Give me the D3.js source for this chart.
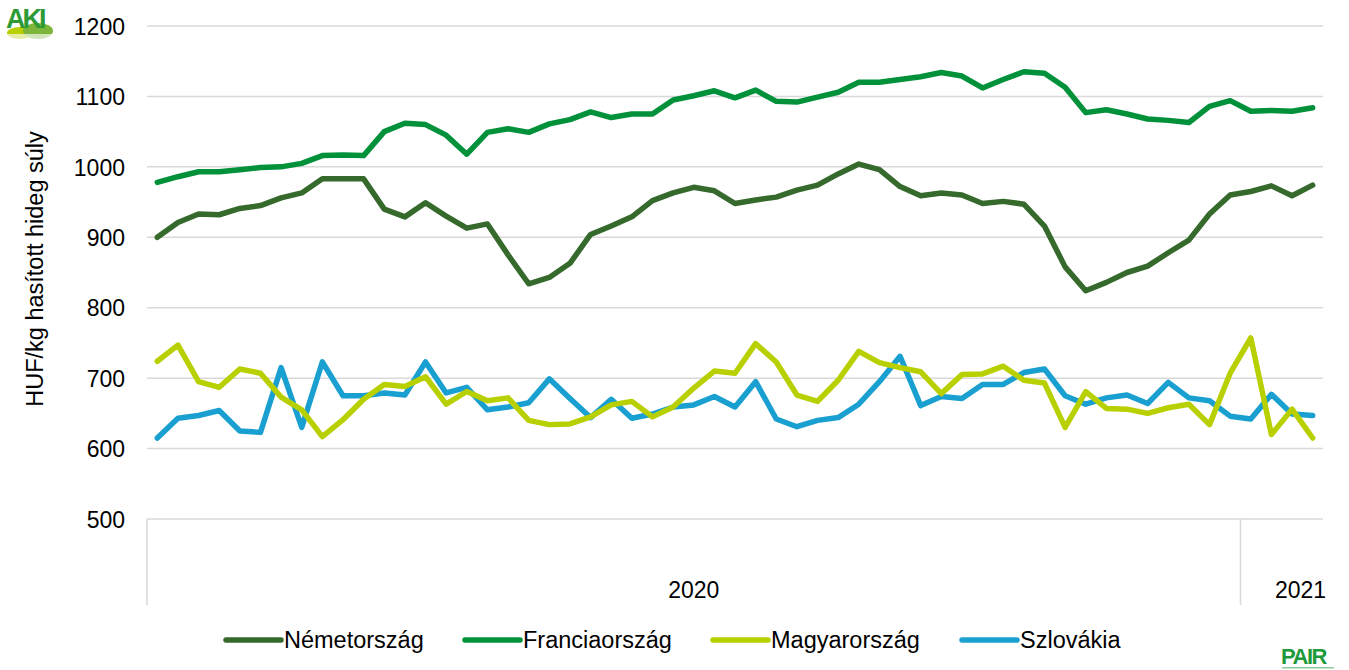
<!DOCTYPE html>
<html>
<head>
<meta charset="utf-8">
<script src="https://cdn.jsdelivr.net/npm/d3@7"></script>
<style>
  body { margin: 0; background: #fff; }
  svg { display: block; font-family: "Liberation Sans", Arial, sans-serif; }
</style>
</head>
<body>
<div id="chart"></div>
<script>
// weekly prices, HUF/kg hasított hideg súly
var yearGroups = [{year: "2020", weeks: 53}, {year: "2021", weeks: 4}];
var seriesNames = ["Németország", "Franciaország", "Magyarország", "Szlovákia"];
var yTicks = [500, 600, 700, 800, 900, 1000, 1100, 1200];

var nemet = [900, 921, 933, 932, 941, 945, 956, 963, 983, 983, 983, 940, 929, 949, 930, 913, 919, 875, 834, 843,
  863, 904, 916, 929, 952, 963, 971, 966, 948, 953, 957, 967, 974, 990, 1004, 996, 972, 959, 963, 960,
  948, 951, 947, 916, 858, 824, 836, 850, 859, 878, 896, 933, 960, 965, 973, 959, 974];
var francia = [978, 986, 993, 993, 996, 999, 1000, 1005, 1016, 1017, 1016, 1050, 1062, 1060, 1045, 1018, 1049, 1054, 1049, 1061,
  1067, 1078, 1070, 1075, 1075, 1095, 1101, 1108, 1098, 1109, 1093, 1092, 1099, 1106, 1120, 1120, 1124, 1128, 1134, 1129,
  1112, 1124, 1135, 1133, 1113, 1077, 1081, 1075, 1068, 1066, 1063, 1086, 1094, 1079, 1080, 1079, 1084];
var magyar = [724, 747, 695, 687, 713, 707, 673, 655, 617, 641, 670, 691, 688, 702, 663, 681, 668, 672, 640, 634,
  635, 645, 662, 667, 645, 659, 686, 710, 707, 749, 723, 676, 667, 697, 738, 722, 715, 709, 678, 705,
  706, 717, 697, 693, 630, 681, 657, 656, 650, 658, 663, 634, 707, 757, 620, 656, 615];
var szlovak = [615, 643, 647, 654, 625, 623, 715, 630, 723, 675, 675, 679, 676, 723, 679, 687, 655, 659, 665, 699,
  671, 644, 670, 643, 649, 659, 662, 674, 659, 695, 642, 631, 640, 644, 663, 695, 731, 661, 674, 671,
  691, 691, 708, 713, 675, 663, 672, 676, 664, 694, 672, 668, 646, 642, 677, 649, 647];

var colors = ["#356a2c", "#00913a", "#b8cf00", "#1aa0d0"];

function init() {
  var W = 1349, H = 670;
  var left = 147, right = 1323, top = 26, bottom = 519;

  var svg = d3.select("#chart").append("svg")
    .attr("width", W)
    .attr("height", H);

  // category list: one entry per week
  var cats = [];
  yearGroups.forEach(function(g) {
    for (var w = 1; w <= g.weeks; w++) cats.push(g.year + "-" + w);
  });

  var xScale = d3.scaleBand()
    .domain(cats)
    .range([left, right]);

  var yScale = d3.scaleLinear()
    .domain([500, 1200])
    .range([bottom, top]);

  // gridlines
  svg.append("g").selectAll("line")
    .data(yTicks)
    .enter()
    .append("line")
      .attr("x1", left)
      .attr("x2", right)
      .attr("y1", function(d) { return yScale(d); })
      .attr("y2", function(d) { return yScale(d); })
      .style("stroke", "#d9d9d9")
      .style("stroke-width", "1.5");

  var yAxis = d3.axisLeft(yScale)
    .tickValues(yTicks)
    .tickFormat(d3.format("d"))
    .tickSize(0)
    .tickPadding(0);

  var yG = svg.append("g")
    .attr("transform", "translate(125,0)")
    .call(yAxis);
  yG.select(".domain").remove();
  yG.selectAll("text")
    .style("font-size", "23px")
    .style("font-family", "'Liberation Sans', Arial, sans-serif")
    .style("fill", "#000")
    .attr("dy", "0.36em");

  // year separators + labels
  var start = 0;
  var bounds = [];
  yearGroups.forEach(function(g) {
    bounds.push({year: g.year, a: xScale(cats[start]), b: xScale(cats[start + g.weeks - 1]) + xScale.bandwidth()});
    start += g.weeks;
  });

  svg.append("g").selectAll("line")
    .data(bounds)
    .enter()
    .append("line")
      .attr("x1", function(d) { return d.a; })
      .attr("x2", function(d) { return d.a; })
      .attr("y1", bottom)
      .attr("y2", 605)
      .style("stroke", "#d9d9d9")
      .style("stroke-width", "1.5");

  svg.append("g").selectAll("text")
    .data(bounds)
    .enter()
    .append("text")
      .attr("x", function(d, i) { return i == 0 ? (d.a + d.b) / 2 : d.a + 60; })
      .attr("y", 598)
      .attr("text-anchor", "middle")
      .style("font-size", "23px")
      .text(function(d) { return d.year; });

  // y title
  svg.append("text")
    .attr("transform", "translate(43,269) rotate(-90)")
    .attr("text-anchor", "middle")
    .style("font-size", "23.5px")
    .text("HUF/kg hasított hideg súly");

  var allSeries = [nemet, francia, magyar, szlovak];

  var line = d3.line()
    .x(function(d, i) { return xScale(cats[i]) + xScale.bandwidth() / 2; })
    .y(function(d) { return yScale(d); });

  // draw order: blue, lime, then the two greens on top
  [3, 2, 0, 1].forEach(function(k) {
    svg.append("path")
      .datum(allSeries[k])
      .attr("d", line)
      .style("fill", "none")
      .style("stroke", colors[k])
      .style("stroke-width", "5.5")
      .style("stroke-linejoin", "round")
      .style("stroke-linecap", "round");
  });

  // legend
  var legX = [226, 465, 713, 962];
  var leg = svg.append("g");
  seriesNames.forEach(function(name, i) {
    leg.append("line")
      .attr("x1", legX[i])
      .attr("x2", legX[i] + 55)
      .attr("y1", 640)
      .attr("y2", 640)
      .style("stroke", colors[i])
      .style("stroke-width", "5.5")
      .style("stroke-linecap", "round");
    leg.append("text")
      .attr("x", legX[i] + 58)
      .attr("y", 648)
      .style("font-size", "23.5px")
      .text(name);
  });

  // AKI logo (rough)
  var aki = svg.append("g");
  aki.append("ellipse").attr("cx", 20).attr("cy", 33).attr("rx", 13).attr("ry", 6).style("fill", "#b8cf00");
  aki.append("ellipse").attr("cx", 38).attr("cy", 31).attr("rx", 15).attr("ry", 8).style("fill", "#7db53a");
  aki.append("rect").attr("x", 2).attr("y", 34).attr("width", 58).attr("height", 8).style("fill", "#fff").style("opacity", 0.65);
  aki.append("text")
    .attr("x", 6)
    .attr("y", 28)
    .style("font-size", "27px")
    .style("font-weight", "bold")
    .style("fill", "#2d9a35")
    .style("letter-spacing", "-3px")
    .text("AKI");

  // PAIR logo (rough)
  svg.append("text")
    .attr("x", 1281)
    .attr("y", 664)
    .style("font-size", "22px")
    .style("font-weight", "bold")
    .style("fill", "#1f9a3a")
    .style("letter-spacing", "-1.5px")
    .text("PAIR");
  svg.append("rect")
    .attr("x", 1282).attr("y", 667).attr("width", 52).attr("height", 1.5)
    .style("fill", "#8fc79a");
}

window.onload = init;
</script>
</body>
</html>
